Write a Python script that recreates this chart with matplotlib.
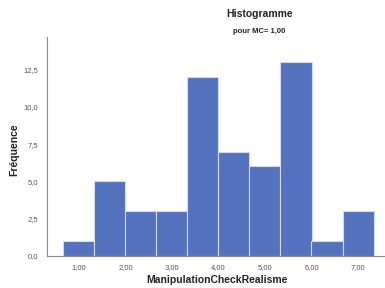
import matplotlib
matplotlib.use('Agg')
import matplotlib.pyplot as plt
from matplotlib.ticker import FuncFormatter

bin_centers = [1.00, 1.667, 2.333, 3.00, 3.667, 4.333, 5.00, 5.667, 6.333, 7.00]
counts = [1, 5, 3, 3, 12, 7, 6, 13, 1, 3]
bin_width = 0.667
x_ticks = [1, 2, 3, 4, 5, 6, 7]
y_ticks = [0, 2.5, 5, 7.5, 10, 12.5]

plt.rcParams['font.family'] = ['Liberation Sans', 'DejaVu Sans']


def comma(fmt):
    return FuncFormatter(lambda v, p: (fmt % v).replace('.', ','))


def plot():
    fig = plt.figure(figsize=(3.85, 2.88), dpi=100)
    ax = fig.add_axes([0.121, 0.112, 0.879, 0.760])

    ax.bar(bin_centers, counts, width=bin_width, color='#5572bf',
           edgecolor='#d0dcf4', linewidth=0.8)

    ax.set_xlim(0.305, 7.58)
    ax.set_ylim(0, 14.7)
    ax.set_xticks(x_ticks)
    ax.set_yticks(y_ticks)
    ax.xaxis.set_major_formatter(comma('%.2f'))
    ax.yaxis.set_major_formatter(comma('%.1f'))
    ax.tick_params(length=0, labelsize=5.5, colors='#555555', pad=6)

    for s in ['top', 'right']:
        ax.spines[s].set_visible(False)
    for s in ['left', 'bottom']:
        ax.spines[s].set_color('#8a8a8a')
        ax.spines[s].set_linewidth(0.8)

    fig.text(0.673, 0.95, 'Histogramme', ha='center', va='center',
             fontsize=7.5, fontweight='bold', color='#222222')
    fig.text(0.673, 0.892, 'pour MC= 1,00', ha='center', va='center',
             fontsize=5.5, fontweight='bold', color='#222222')
    fig.text(0.036, 0.479, 'Fréquence', ha='center', va='center',
             rotation=90, fontsize=7.5, fontweight='bold', color='#222222')
    fig.text(0.564, 0.028, 'ManipulationCheckRealisme', ha='center',
             va='center', fontsize=7.5, fontweight='bold', color='#222222')

    fig.savefig('out.png', dpi=100)


if __name__ == '__main__':
    plot()
